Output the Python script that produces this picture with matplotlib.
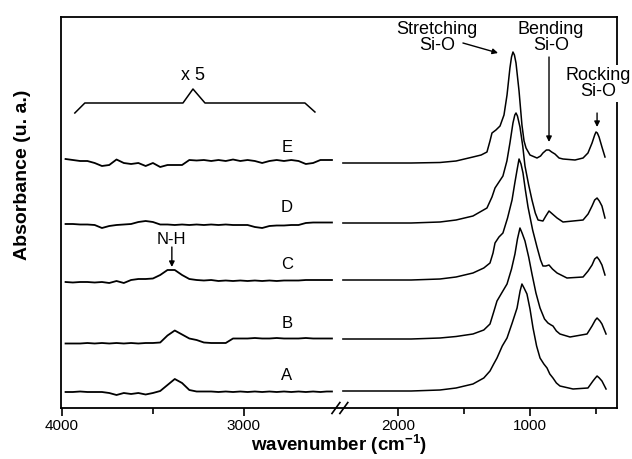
import numpy as np
import matplotlib
matplotlib.use('Agg')
import matplotlib.pyplot as plt

plt.rcParams['font.family'] = ['Liberation Sans', 'DejaVu Sans']
plt.rcParams['mathtext.fontset'] = 'custom'
plt.rcParams['mathtext.rm'] = 'Liberation Sans:bold'
plt.rcParams['mathtext.bf'] = 'Liberation Sans:bold'
plt.rcParams['mathtext.it'] = 'Liberation Sans:bold'

# ---------------- data ----------------
labels = ['A', 'B', 'C', 'D', 'E']
offsets = [0.0, 0.52, 1.11, 1.68, 2.28]

# left (x5) region, wavenumber grid
left_wn = list(range(3980, 2460, -40))
left_A = [-1, -1, -0.5, -1, -1, -1, -2, -4, -2, -3, -2, -3.5, -2, 0, 6, 12, 8, 1, -0.5,
          -0.5, -0.5, -1, -0.5, -1, -0.5, -1, -0.5, -1, -0.5, -1, -0.5, -1, -0.5, -1,
          -0.5, -1, -0.5, -0.5]
left_B = [-4.5, -4.5, -4.5, -4, -4.5, -4, -4.5, -4, -4.5, -4, -4.5, -4, -4, -3.5, 3.5,
          8.5, 4.5, 0.5, -1, -3.5, -4, -4, -4, 0.5, 0.5, 0.5, 1, 0.5, 0.5, 1, 0.5, 0.5,
          0.5, 1, 0.5, 0.5, 0.5, 0.5]
left_C = [-2, -2.5, -2, -2, -2.5, -2, -3, -1, -3, 0, 1, 1, 1.5, 5, 10, 10, 5, 1, 0,
          -0.5, 0, -1, -0.5, -1, -0.5, -1, -0.5, -1, -0.5, -1, -0.5, -0.5, -0.5, 0, 0,
          0, 0, 0]
left_D = [-1, -1, -1.5, -1.5, -2, -5, -3, -2, -1.5, -1, 1, 2, 1, -1.5, -1.5, -2, -1.5,
          -2, -1.5, -2, -1.5, -2, -1.5, -2, -2, -2, -4, -5, -3, -2.5, -2.5, -2, -2, 0,
          0.5, 0.5, 0.5, 0.5]
left_E = [4, 3, 2, 2, 0, -3, -2, 3.5, 0, -1, 0, -3, 0, -4, -2, -2, -2, 3, 2.5, 3, 2, 3,
          2, 3.5, 2, 3, 2, 0, 2, 3, 2, 3, 2, -1, 0, 3, 3, 3]

# right region (Si-O bands)
right_wn_A = [2417, 1900, 1682, 1560, 1432, 1350, 1303, 1275, 1250, 1210, 1174, 1135,
              1098, 1075, 1061, 1045, 1023, 1000, 977, 950, 924, 895, 871, 850, 826, 800,
              773, 674, 561, 523, 505, 492, 475, 455, 424]
right_A = [0, 0, 1, 3, 7, 13, 20, 27, 33, 45, 53, 68, 83, 100, 107, 103, 97, 82, 63, 45,
           33, 27, 23, 17, 13, 8, 5, 2, 3, 10, 13, 15, 13, 10, 2]

right_wn_B = [2417, 1900, 1682, 1560, 1432, 1350, 1303, 1275, 1250, 1210, 1174, 1140,
              1114, 1095, 1076, 1060, 1038, 1010, 985, 955, 924, 890, 864, 840, 826, 800,
              773, 697, 568, 530, 505, 492, 470, 455, 424]
right_B = [0, 0, 1, 2.5, 5, 9, 15, 27, 38, 47, 55, 70, 85, 100, 111, 106, 98, 82, 65,
           46, 31, 20, 16, 14, 13, 8, 5, 2, 5, 13, 19, 21, 18, 15, 5]

right_wn_C = [2417, 1900, 1682, 1560, 1432, 1350, 1303, 1280, 1265, 1235, 1205, 1170,
              1136, 1115, 1098, 1083, 1068, 1053, 1035, 1015, 980, 947, 920, 902, 880,
              856, 830, 795, 720, 598, 560, 530, 510, 492, 475, 455, 432]
right_C = [0, 0, 1, 3, 7, 12, 17, 27, 37, 43, 47, 62, 80, 97, 110, 121, 116, 107, 90,
           73, 50, 33, 20, 14, 14, 15, 11, 7, 2, 3, 9, 15, 21, 23, 20, 15, 5]

right_wn_D = [2417, 1900, 1682, 1560, 1432, 1326, 1288, 1265, 1235, 1205, 1175, 1152,
              1129, 1115, 1106, 1095, 1076, 1055, 1038, 1010, 985, 960, 939, 902, 880,
              856, 830, 795, 750, 598, 560, 530, 510, 492, 475, 455, 432]
right_D = [0, 0, 1, 3, 7, 15, 26, 35, 41, 47, 62, 80, 100, 108, 110, 107, 96, 77, 57,
           38, 23, 10, 3, 2, 7, 12, 9, 5, 1, 3, 9, 17, 23, 25, 22, 17, 5]

right_wn_E = [2417, 1900, 1682, 1560, 1432, 1370, 1326, 1303, 1288, 1258, 1227, 1197,
              1174, 1152, 1140, 1129, 1118, 1106, 1083, 1061, 1045, 1030, 1000, 947, 920,
              902, 876, 856, 836, 811, 780, 750, 659, 598, 561, 530, 510, 500, 490, 477,
              455, 432]
right_E = [0, 0, 0.5, 2, 6, 8, 11, 22, 30, 33, 37, 48, 68, 95, 106, 111, 108, 100, 72,
           38, 22, 15, 8, 5, 7, 10, 13, 13, 11, 9, 5, 4, 3, 5, 10, 20, 28, 31, 30, 26,
           16, 6]

left_vals = [left_A, left_B, left_C, left_D, left_E]
right_wns = [right_wn_A, right_wn_B, right_wn_C, right_wn_D, right_wn_E]
right_vals = [right_A, right_B, right_C, right_D, right_E]

# ---------------- broken (piecewise) wavenumber scale ----------------
BREAK = 2560.0
RATIO = 0.182 / 0.132


def fwd(w):
    w = np.asarray(w, dtype=float)
    return np.where(w > BREAK, BREAK + (w - BREAK) * RATIO, w)


def inv(u):
    u = np.asarray(u, dtype=float)
    return np.where(u > BREAK, BREAK + (u - BREAK) / RATIO, u)


fig = plt.figure(figsize=(6.32, 4.59), dpi=100)
ax = fig.add_axes([61 / 632, 51 / 459, 556 / 632, 391 / 459])
ax.set_xscale('function', functions=(fwd, inv))
ax.set_xlim(4005, 341)
ax.set_ylim(-0.17, 3.74)

for lab, off, lv, rw, rv in zip(labels, offsets, left_vals, right_wns, right_vals):
    ax.plot(left_wn, off + np.array(lv) / 100.0, color='black', lw=1.3)
    ax.plot(rw, off + np.array(rv) / 100.0, color='black', lw=1.1)
    ax.text(2764, off + 0.155, lab, fontsize=12, ha='center', va='center')

# axes styling
for s in ax.spines.values():
    s.set_linewidth(1.3)
ax.set_yticks([])
ax.set_xticks([4000, 3000, 2000, 1000])
ax.set_xticklabels(['4000', '3000', '2000', '1000'])
ax.set_xticks([3500, 1500, 500], minor=True)
ax.tick_params(axis='x', which='major', direction='out', length=6, width=1.2,
               labelsize=11, pad=2)
ax.tick_params(axis='x', which='minor', direction='out', length=4, width=1.2)

ax.set_xlabel('wavenumber (cm$^{-1}$)', fontsize=13.5, fontweight='bold', va='center')
ax.xaxis.set_label_coords(0.5, -0.094)
ax.set_ylabel('Absorbance (u. a.)', fontsize=14, fontweight='bold', va='center')
ax.yaxis.set_label_coords(-0.070, 0.596)

# axis break marks
xt = ax.get_xaxis_transform()
ax.plot([2500, 2440], [-0.014, 0.014], transform=xt, clip_on=False, color='k', lw=1.2)
ax.plot([2440, 2380], [-0.014, 0.014], transform=xt, clip_on=False, color='k', lw=1.2)

# x5 bracket
ax.plot([3929, 3874, 3335, 3280, 3214, 2665, 2610],
        [2.78, 2.88, 2.88, 3.02, 2.88, 2.88, 2.79], color='black', lw=1.1)
ax.text(3280, 3.16, 'x 5', fontsize=13, ha='center', va='center')

# N-H
ax.text(3396, 1.51, 'N-H', fontsize=12, ha='center', va='center')
ax.annotate('', xy=(3396, 1.24), xytext=(3396, 1.44),
            arrowprops=dict(arrowstyle='-|>', color='k', lw=1.0, mutation_scale=8,
                            shrinkA=0, shrinkB=0))

# Si-O bands
ax.text(1705, 3.535, 'Stretching\nSi-O', fontsize=13, ha='center', va='center',
        linespacing=0.95)
ax.annotate('', xy=(1242, 3.38), xytext=(1508, 3.48),
            arrowprops=dict(arrowstyle='-|>', color='k', lw=1.0, mutation_scale=8,
                            shrinkA=0, shrinkB=0))
ax.text(841, 3.535, 'Bending\nSi-O', fontsize=13, ha='center', va='center',
        linespacing=0.95)
ax.annotate('', xy=(856, 2.49), xytext=(856, 3.34),
            arrowprops=dict(arrowstyle='-|>', color='k', lw=1.0, mutation_scale=8,
                            shrinkA=0, shrinkB=0))
ax.text(485, 3.075, 'Rocking\nSi-O', fontsize=13, ha='center', va='center',
        linespacing=0.95, zorder=5,
        bbox=dict(facecolor='white', edgecolor='none', pad=1.5))
ax.annotate('', xy=(492, 2.64), xytext=(492, 2.78),
            arrowprops=dict(arrowstyle='-|>', color='k', lw=1.0, mutation_scale=8,
                            shrinkA=0, shrinkB=0))

fig.savefig('out.png', dpi=100)
